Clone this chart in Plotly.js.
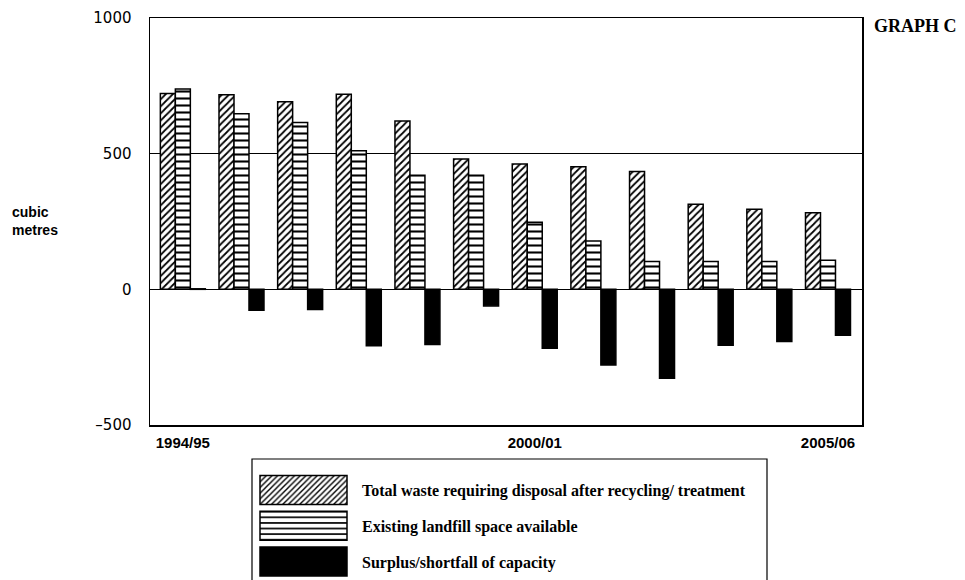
<!DOCTYPE html>
<html>
<head>
<meta charset="utf-8">
<script src="https://cdn.plot.ly/plotly-3.0.1.min.js"></script>
<style>
  html, body { margin: 0; padding: 0; background: #ffffff; }
  #chart { width: 965px; height: 580px; }
</style>
</head>
<body>
<div id="chart"></div>
<script>
// ---- data ----
var years = ["1994/95", "1995/96", "1996/97", "1997/98", "1998/99", "1999/00",
             "2000/01", "2001/02", "2002/03", "2003/04", "2004/05", "2005/06"];
var totalWaste = [722, 717, 691, 719, 620, 480, 462, 452, 434, 314, 295, 282];
var landfillSpace = [738, 647, 615, 511, 420, 420, 247, 178, 103, 103, 103, 107];
var surplusShortfall = [2, -77, -74, -208, -203, -61, -217, -279, -328, -206, -192, -169];
var shownTicks = ["1994/95", "2000/01", "2005/06"];
var yTickVals = [-500, 0, 500, 1000];
var yTickText = ["\u2013500", "0", "500", "1000"];
var seriesNames = ["Total waste requiring disposal after recycling/ treatment",
                   "Existing landfill space available",
                   "Surplus/shortfall of capacity"];

var outline = { color: "#000000", width: 1.5 };

var traces = [
  {
    type: "bar", x: years, y: totalWaste, name: seriesNames[0], legendgroup: "a",
    marker: { color: "#ffffff", line: outline,
      pattern: { shape: "/", size: 5, solidity: 0.35, fgcolor: "#000000", bgcolor: "#ffffff", fillmode: "replace" } }
  },
  {
    type: "bar", x: years, y: landfillSpace, name: seriesNames[1], legendgroup: "b",
    marker: { color: "#ffffff", line: outline,
      pattern: { shape: "-", size: 7, solidity: 0.3, fgcolor: "#000000", bgcolor: "#ffffff", fillmode: "replace" } }
  },
  {
    type: "bar", x: years, y: surplusShortfall, name: seriesNames[2], legendgroup: "c",
    marker: { color: "#000000", line: outline }
  }
];

var layout = {
  width: 965, height: 580,
  margin: { l: 150, r: 103, t: 18, b: 155, autoexpand: false },
  paper_bgcolor: "#ffffff", plot_bgcolor: "#ffffff",
  barmode: "group", bargap: 0.233, bargroupgap: 0,
  showlegend: true,
  legend: {
    x: (252 - 150) / 712, xanchor: "left", xref: "paper",
    y: -0.118, yanchor: "top", yref: "paper",
    bgcolor: "rgba(0,0,0,0)", borderwidth: 0,
    itemwidth: 100, tracegroupgap: 12, traceorder: "grouped",
    font: { family: "Liberation Serif, Times New Roman, serif", size: 16, color: "#000000", weight: "bold" },
    itemclick: false, itemdoubleclick: false
  },
  xaxis: {
    type: "category", range: [-0.56, 11.58],
    tickvals: shownTicks, ticktext: shownTicks,
    showline: true, mirror: true, linecolor: "#000000", linewidth: 1.5,
    showgrid: false, ticks: "", ticklabelstandoff: 3,
    tickfont: { family: "Liberation Sans, Arial, sans-serif", size: 15, color: "#000000", weight: "bold" },
    fixedrange: true
  },
  yaxis: {
    range: [-500, 1000], tickvals: yTickVals, ticktext: yTickText,
    showline: true, mirror: true, linecolor: "#000000", linewidth: 1.5,
    showgrid: true, gridcolor: "#000000", gridwidth: 1.5,
    zeroline: true, zerolinecolor: "#000000", zerolinewidth: 1.5,
    ticks: "", ticklabelstandoff: 14,
    tickfont: { family: "DejaVu Sans, sans-serif", size: 15, color: "#000000" },
    fixedrange: true
  },
  shapes: [
    { type: "rect", xref: "paper", yref: "paper",
      x0: (252 - 150) / 712, x1: (767 - 150) / 712,
      y0: (425 - 600) / 407, y1: (425 - 459) / 407,
      line: { color: "#000000", width: 1.2 }, fillcolor: "rgba(0,0,0,0)", layer: "below" }
  ],
  annotations: [
    { text: "<b>GRAPH C</b>", xref: "paper", yref: "paper",
      x: (872 - 150) / 712, xanchor: "left", y: (425 - 26) / 407, yanchor: "middle",
      showarrow: false, font: { family: "Liberation Serif, Times New Roman, serif", size: 18, color: "#000000" } },
    { text: "cubic<br>metres", xref: "paper", yref: "paper", align: "left",
      x: (10 - 150) / 712, xanchor: "left", y: (425 - 221) / 407, yanchor: "middle",
      showarrow: false, font: { family: "Liberation Sans, Arial, sans-serif", size: 14, color: "#000000", weight: "bold" } }
  ]
};

function fixLegendSwatches() {
  var paths = document.querySelectorAll("#chart .legend .traces .legendpoints path");
  paths.forEach(function (p) {
    p.setAttribute("d", "M8,-14.5H95V14.5H8Z");
    p.removeAttribute("transform");
    p.style.strokeWidth = "1.5px";
    p.style.stroke = "#000000";
  });
}

Plotly.newPlot("chart", traces, layout, { displayModeBar: false, staticPlot: true }).then(function (gd) {
  fixLegendSwatches();
  gd.on("plotly_afterplot", fixLegendSwatches);
});
</script>
</body>
</html>
